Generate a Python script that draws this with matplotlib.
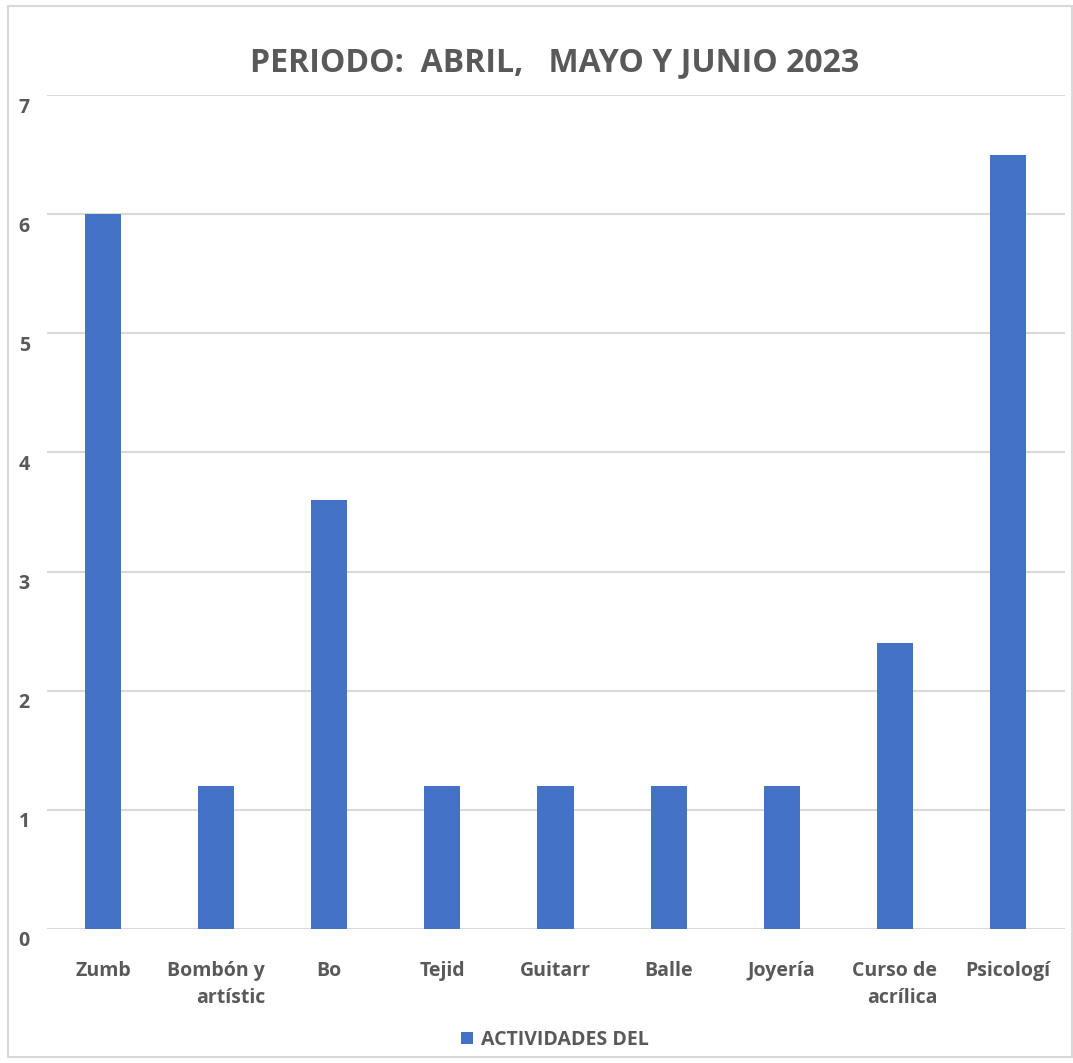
import matplotlib
matplotlib.use("Agg")
import matplotlib.pyplot as plt
from matplotlib.patches import Rectangle
import matplotlib.transforms as mtransforms
from matplotlib import font_manager

categories = ["Zumb", "Bombón y\nartístic", "Bo", "Tejid", "Guitarr", "Balle",
              "Joyería", "Curso de\nacrílica", "Psicologí"]
values = [6.0, 1.2, 3.6, 1.2, 1.2, 1.2, 1.2, 2.4, 6.5]
yticks = [0, 1, 2, 3, 4, 5, 6, 7]
series_name = "ACTIVIDADES DEL"
title = "PERIODO:  ABRIL,   MAYO Y JUNIO 2023"

avail = {f.name for f in font_manager.fontManager.ttflist}
fam = "Liberation Sans Narrow" if "Liberation Sans Narrow" in avail else "Open Sans"
plt.rcParams["font.family"] = [fam, "DejaVu Sans"]

txt = "#595959"
grid = "#d9d9d9"
bar_c = "#4472C4"

fig = plt.figure(figsize=(10.73, 10.63), dpi=100)
fig.patches.append(Rectangle((8/1073, 6/1063), 1 - 9/1073, 1 - 12/1063,
                             transform=fig.transFigure, fill=False,
                             edgecolor=grid, linewidth=1.5))
ax = fig.add_axes([46.5/1073, (1063-929)/1063, 1018/1073, 834/1063])
x = list(range(len(categories)))
ax.bar(x, values, width=0.32, color=bar_c, zorder=3, label=series_name)
ax.set_xlim(-0.5, len(categories) - 0.5)
ax.set_ylim(0, 7)
ax.set_yticks(yticks)
ax.set_yticklabels([str(t) for t in yticks])
ax.grid(axis="y", color=grid, linewidth=1.5, zorder=0)
for s in ax.spines.values():
    s.set_visible(False)
ax.tick_params(axis="both", length=0, labelsize=14, labelcolor=txt)
ax.tick_params(axis="y", pad=12)
ax.tick_params(axis="x", pad=23)
ax.set_xticks(x)
ax.set_xticklabels(categories, fontweight="bold", multialignment="right",
                   linespacing=1.45)
off = mtransforms.ScaledTranslation(0, -10/100, fig.dpi_scale_trans)
for lab in ax.get_yticklabels():
    lab.set_fontweight("bold")
    lab.set_transform(lab.get_transform() + off)

fig.text(555/1073, 1 - 63/1063, title, ha="center", va="center",
         fontsize=23, fontweight="bold", color=txt)

leg = ax.legend(loc="center", bbox_to_anchor=(555/1073, 1 - 1040/1063),
                bbox_transform=fig.transFigure, frameon=False,
                handlelength=0.6, handleheight=0.6, handletextpad=0.4,
                prop={"size": 14, "weight": "bold"})
for t in leg.get_texts():
    t.set_color(txt)

fig.savefig("out.png", dpi=100, facecolor="white")
